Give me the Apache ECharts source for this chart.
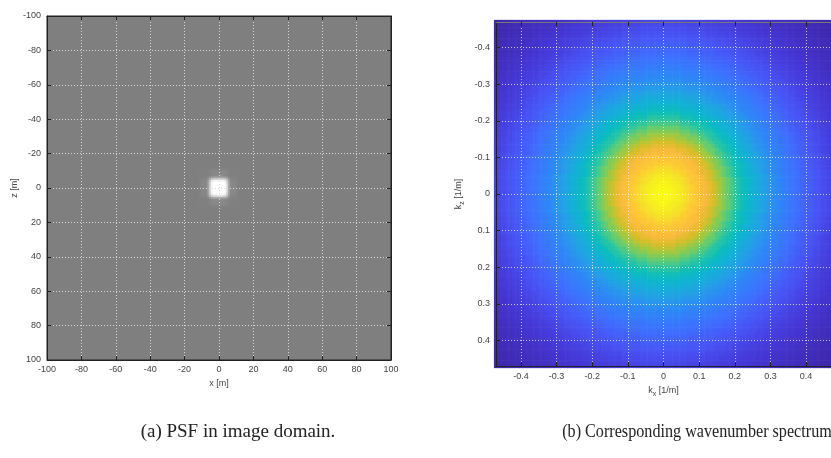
<!DOCTYPE html>
<html>
<head>
<meta charset="utf-8">
<script src="https://cdn.jsdelivr.net/npm/echarts@6/dist/echarts.min.js"></script>
<style>
html,body{margin:0;padding:0;background:#fff;}
#c{width:831px;height:458px;}
</style>
</head>
<body>
<div id="c"></div>
<script>
// ---- data ----
const xTicksM = [-100, -80, -60, -40, -20, 0, 20, 40, 60, 80, 100];
const kTicks = [-0.4, -0.3, -0.2, -0.1, 0, 0.1, 0.2, 0.3, 0.4];
// PSF main-lobe amplitude vs |offset| (m), 1 m steps (separable in x and z)
const psfProfile = [1.0, 1.0, 0.99, 0.95, 0.85, 0.6, 0.28, 0.08, 0.06, 0.07, 0.05, 0.02, 0.0];
// Wavenumber spectrum magnitude (normalised) vs |k| (1/m), 0.01 steps
const spectrumProfile = [
  1.000, 0.997, 0.990, 0.978, 0.965, 0.948, 0.930, 0.910, 0.885, 0.860,
  0.840, 0.820, 0.795, 0.760, 0.725, 0.690, 0.655, 0.620, 0.587, 0.557,
  0.528, 0.502, 0.478, 0.453, 0.430, 0.405, 0.382, 0.360, 0.340, 0.320,
  0.300, 0.285, 0.270, 0.257, 0.245, 0.232, 0.220, 0.207, 0.195, 0.183,
  0.170, 0.160, 0.150, 0.140, 0.130, 0.120, 0.110, 0.102, 0.095, 0.087,
  0.080, 0.073, 0.066, 0.060, 0.055, 0.050, 0.045, 0.040, 0.035, 0.031,
  0.028, 0.024, 0.020, 0.016, 0.012, 0.008, 0.005, 0.002
];
const kStep = 0.01;
const kHalfSpan = 0.47;
const captionA = '(a) PSF in image domain.';
const captionB = '(b) Corresponding wavenumber spectrum';

// ---- build cell tables ----
const psfData = [];
const nP = psfProfile.length - 1;
for (let ix = -nP; ix <= nP; ix++) {
  for (let iz = -nP; iz <= nP; iz++) {
    psfData.push([ix, iz, psfProfile[Math.abs(ix)] * psfProfile[Math.abs(iz)]]);
  }
}
const specData = [];
const nK = Math.round(kHalfSpan / kStep);
for (let i = -nK; i <= nK; i++) {
  for (let j = -nK; j <= nK; j++) {
    const r = Math.round(Math.sqrt(i * i + j * j));
    const v = spectrumProfile[Math.min(r, spectrumProfile.length - 1)];
    specData.push([+(i * kStep).toFixed(2), +(j * kStep).toFixed(2), v]);
  }
}

const parula = ['#3e26a8','#4537d5','#4852f4','#3e6fff','#2e87f7','#23a0e5','#12b1d6','#0bbdbd',
                '#37c897','#72cd64','#abc739','#dcbd29','#f8ba3d','#fec934','#f5e327','#f9fb15'];

function cellRenderer(step) {
  return function (params, api) {
    const x = api.value(0), y = api.value(1);
    const p0 = api.coord([x - step / 2, y - step / 2]);
    const p1 = api.coord([x + step / 2, y + step / 2]);
    return {
      type: 'rect',
      shape: {
        x: Math.min(p0[0], p1[0]) - 0.3,
        y: Math.min(p0[1], p1[1]) - 0.3,
        width: Math.abs(p1[0] - p0[0]) + 0.6,
        height: Math.abs(p1[1] - p0[1]) + 0.6
      },
      style: { fill: api.visual('color') }
    };
  };
}

const lblFont = { fontFamily: 'Liberation Sans', fontSize: 9, color: '#444' };
const dark = '#222';
const nameRich = {
  n: { fontFamily: 'Liberation Sans', fontSize: 9, color: '#444' },
  s: { fontFamily: 'Liberation Sans', fontSize: 7, color: '#444', padding: [7, 0, 0, 0] }
};

const chart = echarts.init(document.getElementById('c'), null, { renderer: 'canvas' });
chart.setOption({
  animation: false,
  backgroundColor: '#ffffff',
  grid: [
    { left: 47, top: 16, width: 344, height: 344, show: true, backgroundColor: '#7f7f7f', borderColor: dark, borderWidth: 1 },
    { left: 496, top: 22, width: 344, height: 344, show: true, backgroundColor: 'transparent', borderWidth: 0 }
  ],
  xAxis: [
    { type: 'value', gridIndex: 0, min: -100, max: 100, interval: 20, position: 'bottom', z: 5,
      axisLine: { show: true, onZero: false, lineStyle: { color: dark } },
      axisTick: { show: true, inside: true, length: 4, lineStyle: { color: dark } },
      axisLabel: Object.assign({ margin: 5, formatter: v => String(v) }, lblFont),
      splitLine: { show: true, lineStyle: { color: '#d8d8d8', type: [1, 2], width: 1 } },
      name: 'x [m]', nameLocation: 'middle', nameGap: 17,
      nameTextStyle: { fontFamily: 'Liberation Sans', fontSize: 9, color: '#444' } },
    { type: 'value', gridIndex: 0, min: -100, max: 100, interval: 20, position: 'top', z: 5,
      axisLine: { show: true, onZero: false, lineStyle: { color: dark } },
      axisTick: { show: true, inside: true, length: 4, lineStyle: { color: dark } },
      axisLabel: { show: false }, splitLine: { show: false } },
    { type: 'value', gridIndex: 1, min: -kHalfSpan, max: kHalfSpan, position: 'bottom', z: 5,
      axisLine: { show: true, onZero: false, lineStyle: { color: dark } },
      axisTick: { show: true, inside: true, length: 4, customValues: kTicks, lineStyle: { color: dark } },
      axisLabel: Object.assign({ margin: 6, customValues: kTicks, formatter: v => String(v) }, lblFont),
      splitLine: { show: true, customValues: kTicks, lineStyle: { color: 'rgba(255,255,255,0.7)', type: [1, 2], width: 1 } },
      name: '{n|k}{s|x}{n| [1/m]}', nameLocation: 'middle', nameGap: 16,
      nameTextStyle: { rich: nameRich } },
    { type: 'value', gridIndex: 1, min: -kHalfSpan, max: kHalfSpan, position: 'top', z: 5,
      axisLine: { show: true, onZero: false, lineStyle: { color: '#777' } },
      axisTick: { show: true, inside: true, length: 4, customValues: kTicks, lineStyle: { color: dark } },
      axisLabel: { show: false }, splitLine: { show: false } }
  ],
  yAxis: [
    { type: 'value', gridIndex: 0, min: -100, max: 100, interval: 20, inverse: true, position: 'left', z: 5,
      axisLine: { show: true, onZero: false, lineStyle: { color: dark } },
      axisTick: { show: true, inside: true, length: 4, lineStyle: { color: dark } },
      axisLabel: Object.assign({ margin: 6, formatter: v => String(v) }, lblFont),
      splitLine: { show: true, lineStyle: { color: '#d8d8d8', type: [1, 2], width: 1 } },
      name: 'z [m]', nameLocation: 'middle', nameGap: 28, nameRotate: 90,
      nameTextStyle: { fontFamily: 'Liberation Sans', fontSize: 9, color: '#444' } },
    { type: 'value', gridIndex: 0, min: -100, max: 100, interval: 20, inverse: true, position: 'right', z: 5,
      axisLine: { show: true, onZero: false, lineStyle: { color: dark } },
      axisTick: { show: true, inside: true, length: 4, lineStyle: { color: dark } },
      axisLabel: { show: false }, splitLine: { show: false } },
    { type: 'value', gridIndex: 1, min: -kHalfSpan, max: kHalfSpan, inverse: true, position: 'left', z: 5,
      axisLine: { show: true, onZero: false, lineStyle: { color: dark } },
      axisTick: { show: true, inside: true, length: 4, customValues: kTicks, lineStyle: { color: dark } },
      axisLabel: Object.assign({ margin: 6, customValues: kTicks, formatter: v => String(v) }, lblFont),
      splitLine: { show: true, customValues: kTicks, lineStyle: { color: 'rgba(255,255,255,0.7)', type: [1, 2], width: 1 } },
      name: '{n|k}{s|z}{n| [1/m]}', nameLocation: 'middle', nameGap: 30, nameRotate: 90,
      nameTextStyle: { rich: nameRich } }
  ],
  visualMap: [
    { type: 'continuous', show: false, seriesIndex: 0, dimension: 2, min: -0.9, max: 0.9,
      inRange: { color: ['#000000', '#ffffff'] } },
    { type: 'continuous', show: false, seriesIndex: 1, dimension: 2, min: 0, max: 1,
      inRange: { color: parula } }
  ],
  series: [
    { type: 'custom', xAxisIndex: 0, yAxisIndex: 0, data: psfData, renderItem: cellRenderer(1), z: 2, silent: true },
    { type: 'custom', xAxisIndex: 2, yAxisIndex: 2, data: specData, renderItem: cellRenderer(kStep), z: 2, silent: true }
  ],
  graphic: [
    { type: 'text', x: 238, y: 432, style: { text: captionA, fontFamily: 'Liberation Serif', fontSize: 19, fill: '#222', align: 'center', verticalAlign: 'middle' } },
    { type: 'text', x: 697, y: 432, scaleX: 0.85, style: { text: captionB, fontFamily: 'Liberation Serif', fontSize: 19, fill: '#222', align: 'center', verticalAlign: 'middle' } }
  ]
});
</script>
</body>
</html>
